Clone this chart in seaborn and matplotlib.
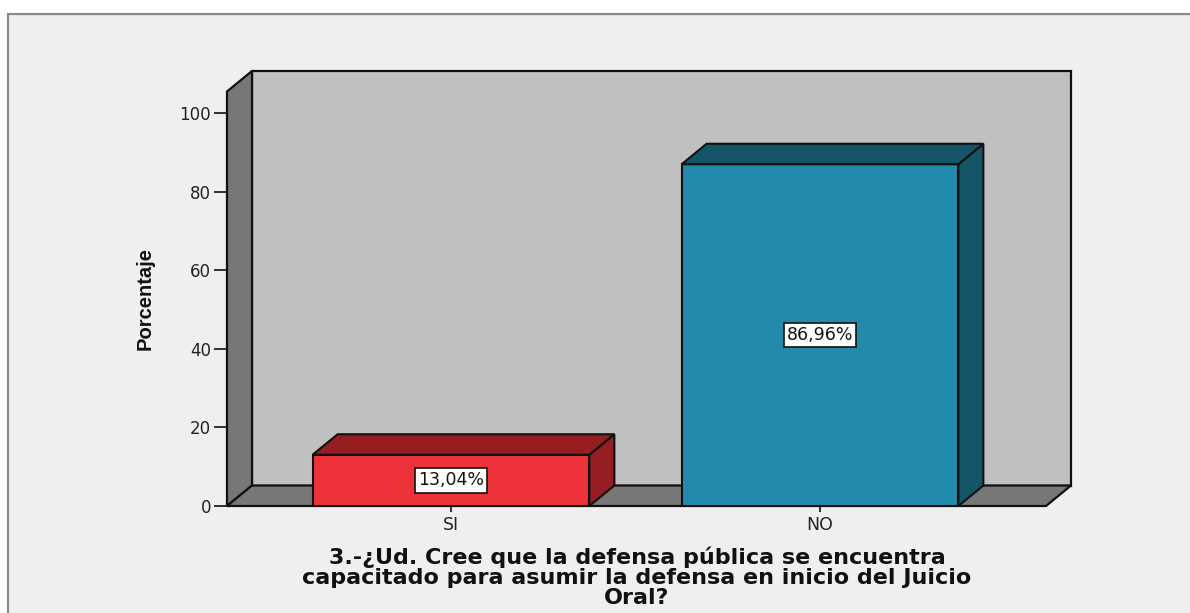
import matplotlib
matplotlib.use("Agg")
import matplotlib.pyplot as plt
import seaborn as sns
import pandas as pd
from matplotlib.patches import Polygon, Rectangle

# ---- data ----
categories = ["SI", "NO"]
values = [13.04, 86.96]
value_labels = ["13,04%", "86,96%"]
yticks = [0, 20, 40, 60, 80, 100]
ylabel = "Porcentaje"
xlabel = ("3.-¿Ud. Cree que la defensa pública se encuentra\n"
          "capacitado para asumir la defensa en inicio del Juicio\n"
          "Oral?")

front_colors = {"SI": "#EE3239", "NO": "#238AAB"}
dark_colors = {"SI": "#961E23", "NO": "#165468"}

sns.set_style("white")
plt.rcParams["font.family"] = ["DejaVu Sans"]

W, H = 1190, 613
fig = plt.figure(figsize=(W / 100, H / 100), dpi=100)
fig.patch.set_facecolor("white")

# outer frame
frame = Rectangle((8 / W, -0.05), 1.2, (1 - 14 / H) + 0.05, transform=fig.transFigure,
                  facecolor="#EFEFEF", edgecolor="#8A8A8A", lw=1.6, zorder=-10)
fig.patches.append(frame)

# axes geometry (pixels)
x_left_px, x_right_px = 227, 1071
y_bot_px, y_top_px = 506, 71
ax = fig.add_axes([x_left_px / W, 1 - y_bot_px / H,
                   (x_right_px - x_left_px) / W, (y_bot_px - y_top_px) / H])
ax.patch.set_alpha(0)

px_per_cat = 369.0
px_per_val = 3.93
x0 = -0.607
xmax = x0 + (x_right_px - x_left_px) / px_per_cat
ymax = (y_bot_px - y_top_px) / px_per_val
dx = 25 / px_per_cat
dy = 20.5 / px_per_val

df = pd.DataFrame({"cat": categories, "val": values})
sns.barplot(data=df, x="cat", y="val", hue="cat", palette=front_colors,
            width=0.75, edgecolor="#111111", linewidth=1.5, legend=False,
            ax=ax, zorder=3, saturation=1)

ax.set_xlim(x0, xmax)
ax.set_ylim(0, ymax)

wall_kw = dict(edgecolor="#111111", lw=1.6, closed=True, clip_on=False)
# back wall
ax.add_patch(Polygon([(x0 + dx, dy), (xmax, dy), (xmax, ymax), (x0 + dx, ymax)],
                     facecolor="#C0C0C0", zorder=0.5, **wall_kw))
# left wall
ax.add_patch(Polygon([(x0, 0), (x0 + dx, dy), (x0 + dx, ymax), (x0, ymax - dy)],
                     facecolor="#777777", zorder=0.6, **wall_kw))
# floor
ax.add_patch(Polygon([(x0, 0), (x0 + dx, dy), (xmax, dy), (xmax - dx, 0)],
                     facecolor="#777777", zorder=0.7, **wall_kw))

# 3D faces of bars + labels
bars = sorted([b for c in ax.containers for b in c], key=lambda b: b.get_x())
for bar, cat, lab in zip(bars, categories, value_labels):
    bx, bw, bh = bar.get_x(), bar.get_width(), bar.get_height()
    dc = dark_colors[cat]
    ax.add_patch(Polygon([(bx, bh), (bx + dx, bh + dy), (bx + bw + dx, bh + dy), (bx + bw, bh)],
                         facecolor=dc, edgecolor="#111111", lw=1.5, zorder=3.2, clip_on=False))
    ax.add_patch(Polygon([(bx + bw, 0), (bx + bw + dx, dy), (bx + bw + dx, bh + dy), (bx + bw, bh)],
                         facecolor=dc, edgecolor="#111111", lw=1.5, zorder=3.1, clip_on=False))
    ax.text(bx + bw / 2, bh / 2, lab, ha="center", va="center", fontsize=12.5,
            color="#111111", zorder=5,
            bbox=dict(boxstyle="square,pad=0.18", facecolor="white", edgecolor="#111111", lw=1.2))

for s in ax.spines.values():
    s.set_visible(False)

ax.set_yticks(yticks)
ax.set_yticklabels([str(t) for t in yticks], fontsize=12, color="#222222")
ax.tick_params(axis="y", left=True, length=9.5, width=1.3, color="#222222", pad=2)
ax.tick_params(axis="x", bottom=True, length=4.5, width=1.3, color="#222222", pad=3,
               labelsize=12.5, labelcolor="#222222")
ax.set_xlabel("")
ax.set_ylabel("")

fig.text(145 / W, 1 - 298 / H, ylabel, rotation=90, ha="center", va="center",
         fontsize=14.5, fontweight="bold", color="#111111", family="Liberation Sans")
fig.text(637 / W, 1 - 577 / H, xlabel, ha="center", va="center", fontsize=16,
         fontweight="bold", color="#111111", linespacing=1.0, multialignment="center")

fig.savefig("out.png", dpi=100)
